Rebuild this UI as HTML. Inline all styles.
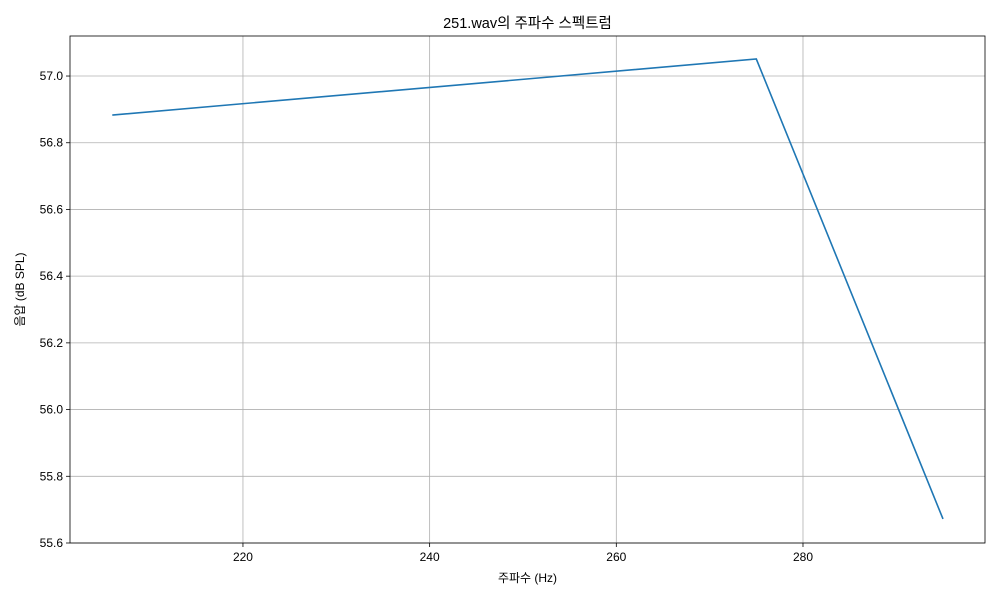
<!DOCTYPE html>
<html><head><meta charset="utf-8">
<style>
html,body{margin:0;padding:0;background:#fff;}
svg{display:block;font-family:"Liberation Sans","Noto Sans CJK KR",sans-serif;}
</style></head>
<body>
<svg id="chart" width="1000" height="600"></svg>
<script>
const freqs = [206, 275, 295];
const levels = [56.883, 57.051, 55.672];
const xTicks = [220, 240, 260, 280];
const yTicks = [55.6, 55.8, 56.0, 56.2, 56.4, 56.6, 56.8, 57.0];

const L=70,R=985,T=36,B=543;
const xMin=201.47,xMax=299.5,yMin=55.6,yMax=57.12;
const sx=v=>L+(v-xMin)/(xMax-xMin)*(R-L);
const sy=v=>B-(v-yMin)/(yMax-yMin)*(B-T);
const svg=document.getElementById('chart');
const NS='http://www.w3.org/2000/svg';
function mk(tag,attrs,parent){const e=document.createElementNS(NS,tag);for(const k in attrs)e.setAttribute(k,attrs[k]);(parent||svg).appendChild(e);return e;}

const grid=mk('g',{});


xTicks.forEach(t=>{
  const x=sx(t);
  mk('line',{x1:x,x2:x,y1:T,y2:B,stroke:'#b0b0b0','stroke-width':0.8},grid);
  mk('line',{x1:x,x2:x,y1:B,y2:B+4,stroke:'#000','stroke-width':0.8});
  const tx=mk('text',{x:x,y:B+18,'text-anchor':'middle','font-size':12,fill:'#000'});
  tx.textContent=t;
  
  
});
yTicks.forEach(t=>{
  const y=sy(t);
  mk('line',{x1:L,x2:R,y1:y,y2:y,stroke:'#b0b0b0','stroke-width':0.8},grid);
  mk('line',{x1:L-4,x2:L,y1:y,y2:y,stroke:'#000','stroke-width':0.8});
  const tx=mk('text',{x:L-7,y:y+4,'text-anchor':'end','font-size':12,fill:'#000'});
  tx.textContent=t.toFixed(1);
  
  
});
const line=mk('polyline',{points:freqs.map((f,i)=>sx(f)+','+sy(levels[i])).join(' '),fill:'none',stroke:'#1f77b4','stroke-width':1.6});


const frame=mk('rect',{x:L,y:T,width:R-L,height:B-T,fill:'none',stroke:'#000','stroke-width':0.8});


const title=mk('text',{x:(L+R)/2,y:28,'text-anchor':'middle','font-size':14.5,fill:'#000'});
title.textContent='251.wav의 주파수 스펙트럼';


const xl=mk('text',{x:(L+R)/2,y:582,'text-anchor':'middle','font-size':12,fill:'#000'});
xl.textContent='주파수 (Hz)';


const yl=mk('text',{x:0,y:0,'text-anchor':'middle','font-size':12,fill:'#000',transform:'translate(24,'+((T+B)/2)+') rotate(-90)'});
yl.textContent='음압 (dB SPL)';


</script>
</body></html>
